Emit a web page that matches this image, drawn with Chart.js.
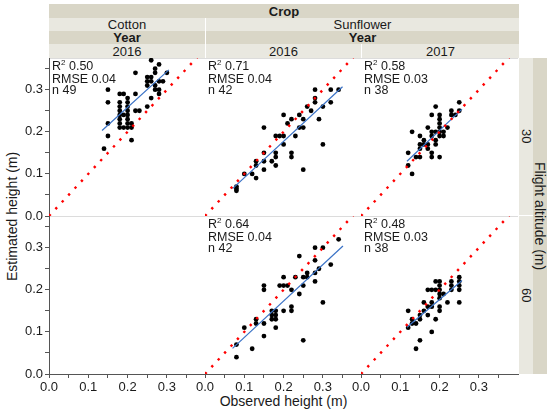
<!DOCTYPE html>
<html>
<head>
<meta charset="utf-8">
<script src="https://cdn.jsdelivr.net/npm/chart.js@4.4.1/dist/chart.umd.min.js"></script>
<style>
  body { margin: 0; width: 550px; height: 411px; position: relative; overflow: hidden; background: #fff;
         font-family: "Liberation Sans", Arial, sans-serif; color: #1a1a1a; }
  .box { position: absolute; }
  .strip { position: absolute; display: flex; align-items: center; justify-content: center; font-size: 13px; }
  .dark { background: #d9d6c7; }
  .light { background: #e9e8e0; }
  .bold { font-weight: bold; }
  .vert { writing-mode: vertical-rl; }
  .stats { position: absolute; font-size: 12.5px; line-height: 11.6px; white-space: nowrap; }
  .stats .sup { font-size: 8px; position: relative; top: -5px; }
</style>
</head>
<body>
<script>
// strip labels
const crops = ['Cotton', 'Sunflower'];
const years = ['2016', '2016', '2017'];
const altitudes = ['30', '60'];

// Cotton 2016, 30 m
const cot16a30Obs = [0.14, 0.15, 0.15, 0.15, 0.15, 0.18, 0.18, 0.18, 0.18, 0.18, 0.18, 0.18, 0.18,
  0.19, 0.19, 0.19, 0.20, 0.20, 0.20, 0.20, 0.20, 0.20, 0.20, 0.20, 0.21, 0.21, 0.21,
  0.22, 0.22, 0.22, 0.23, 0.26, 0.28, 0.25, 0.26, 0.25, 0.26, 0.25, 0.27, 0.27,
  0.28, 0.29, 0.27, 0.28, 0.27, 0.26, 0.25, 0.30, 0.28];
const cot16a30Est = [0.16, 0.19, 0.22, 0.27, 0.30, 0.29, 0.27, 0.26, 0.25, 0.24, 0.23, 0.22, 0.21,
  0.29, 0.21, 0.24, 0.28, 0.27, 0.26, 0.25, 0.24, 0.23, 0.21, 0.22, 0.22, 0.18, 0.21,
  0.34, 0.29, 0.25, 0.25, 0.37, 0.36, 0.33, 0.33, 0.32, 0.32, 0.31, 0.35, 0.34,
  0.32, 0.32, 0.30, 0.30, 0.31, 0.28, 0.26, 0.34, 0.29];

// Sunflower 2016, 30 m
const sun16a30Obs = [0.08, 0.08, 0.08, 0.10, 0.12, 0.13, 0.13, 0.13, 0.15, 0.15, 0.15, 0.17, 0.18, 0.18,
  0.18, 0.18, 0.19, 0.20, 0.20, 0.20, 0.21, 0.22, 0.22, 0.22, 0.23, 0.24, 0.24, 0.25, 0.25, 0.25,
  0.26, 0.28, 0.28, 0.28, 0.29, 0.30, 0.30, 0.32, 0.32, 0.34, 0.15, 0.27];
const sun16a30Est = [0.06, 0.07, 0.065, 0.10, 0.10, 0.09, 0.12, 0.13, 0.11, 0.15, 0.21, 0.13, 0.15, 0.14,
  0.12, 0.19, 0.19, 0.19, 0.17, 0.24, 0.22, 0.23, 0.15, 0.14, 0.19, 0.24, 0.21, 0.23, 0.21, 0.11,
  0.26, 0.27, 0.30, 0.28, 0.23, 0.26, 0.17, 0.30, 0.27, 0.30, 0.13, 0.25];

// Sunflower 2017, 30 m
const sun17a30Obs = [0.13, 0.12, 0.12, 0.13, 0.14, 0.15, 0.15, 0.15, 0.16, 0.15, 0.17, 0.17, 0.18, 0.18,
  0.18, 0.18, 0.19, 0.19, 0.19, 0.20, 0.20, 0.20, 0.20, 0.20, 0.20, 0.21, 0.22, 0.23, 0.23, 0.24,
  0.25, 0.25, 0.17, 0.16, 0.19, 0.20, 0.21, 0.18];
const sun17a30Est = [0.10, 0.12, 0.15, 0.20, 0.14, 0.14, 0.19, 0.17, 0.17, 0.16, 0.21, 0.16, 0.24, 0.19,
  0.14, 0.15, 0.26, 0.20, 0.17, 0.24, 0.23, 0.22, 0.21, 0.20, 0.14, 0.19, 0.21, 0.25, 0.24, 0.24,
  0.27, 0.25, 0.17, 0.18, 0.18, 0.19, 0.20, 0.20];

// Sunflower 2016, 60 m
const sun16a60Obs = [0.08, 0.08, 0.10, 0.12, 0.13, 0.13, 0.15, 0.15, 0.15, 0.15, 0.17, 0.17, 0.18, 0.18,
  0.18, 0.18, 0.19, 0.20, 0.20, 0.20, 0.21, 0.22, 0.22, 0.22, 0.23, 0.24, 0.24, 0.25, 0.26, 0.25,
  0.25, 0.28, 0.28, 0.28, 0.28, 0.29, 0.30, 0.30, 0.32, 0.34, 0.17, 0.26];
const sun16a60Est = [0.04, 0.07, 0.11, 0.06, 0.13, 0.12, 0.09, 0.12, 0.21, 0.20, 0.15, 0.13, 0.15, 0.14,
  0.13, 0.11, 0.21, 0.23, 0.21, 0.15, 0.21, 0.20, 0.16, 0.15, 0.23, 0.28, 0.19, 0.23, 0.23, 0.21,
  0.08, 0.30, 0.27, 0.24, 0.22, 0.25, 0.30, 0.17, 0.26, 0.32, 0.14, 0.24];

// Sunflower 2017, 60 m
const sun17a60Obs = [0.12, 0.12, 0.13, 0.13, 0.14, 0.15, 0.15, 0.15, 0.16, 0.17, 0.17, 0.17, 0.18, 0.18,
  0.18, 0.19, 0.19, 0.19, 0.20, 0.20, 0.20, 0.20, 0.20, 0.20, 0.22, 0.23, 0.23, 0.23, 0.25, 0.25,
  0.25, 0.25, 0.25, 0.18, 0.16, 0.14, 0.21, 0.20];
const sun17a60Est = [0.15, 0.11, 0.13, 0.12, 0.06, 0.08, 0.14, 0.13, 0.17, 0.16, 0.14, 0.20, 0.20, 0.16,
  0.10, 0.20, 0.22, 0.13, 0.22, 0.21, 0.20, 0.18, 0.16, 0.15, 0.17, 0.22, 0.21, 0.20, 0.23, 0.22,
  0.21, 0.20, 0.17, 0.17, 0.15, 0.12, 0.19, 0.19];

// fitted line ends (observed, estimated)
const fitObs = [[0.135, 0.305], [0.07, 0.35], [0.117, 0.257], [0.07, 0.351], [0.117, 0.257]];
const fitEst = [[0.203, 0.347], [0.065, 0.307], [0.130, 0.254], [0.061, 0.304], [0.111, 0.222]];

// stats per panel
const r2 = ['0.50', '0.71', '0.58', '0.64', '0.48'];
const rmse = ['0.04', '0.04', '0.03', '0.04', '0.03'];
const nObs = [49, 42, 38, 42, 38];

// layout
const X0 = [49, 205, 361], W = 157;
const Y0 = [58, 216], H = 158;
const M = 12;
const xMax = W / 393, yMax = H / 421;
const FONT = { family: 'Liberation Sans', size: 13 };

function div(cls, x, y, w, h, html) {
  const d = document.createElement('div');
  d.className = cls;
  d.style.left = x + 'px'; d.style.top = y + 'px';
  d.style.width = w + 'px'; d.style.height = h + 'px';
  if (html) d.innerHTML = html;
  document.body.appendChild(d);
  return d;
}

// panel background + dividers
div('box', 49, 58, 469, 316).style.background = '#dcdcdc';
for (let r = 0; r < 2; r++)
  for (let c = 0; c < 3; c++)
    div('box', X0[c] + 1, Y0[r] + 1, W - 1, H - 1).style.background = '#fff';

// top strips
div('strip dark bold', 49, 4, 470, 14, 'Crop');
div('strip light', 49, 18, 156, 13, crops[0]);
div('strip light', 206, 18, 313, 13, crops[1]);
div('strip dark bold', 49, 31, 156, 13, 'Year');
div('strip dark bold', 206, 31, 313, 13, 'Year');
div('strip light', 49, 44, 156, 14, years[0]);
div('strip light', 206, 44, 155, 14, years[1]);
div('strip light', 362, 44, 157, 14, years[2]);
// right strips
div('strip light vert', 519, 58, 14, 157, altitudes[0]);
div('strip light vert', 519, 216, 14, 158, altitudes[1]);
div('strip dark vert', 533, 58, 14, 316, 'Flight altitude (m)').style.fontSize = '14px';

// axis titles
const yt = div('strip vert', 4, 58, 16, 316, 'Estimated height (m)');
yt.style.transform = 'rotate(180deg)'; yt.style.fontSize = '14px';
div('strip', 205, 393, 157, 16, 'Observed height (m)').style.fontSize = '14px';

const lab = v => (Math.abs(v * 10 - Math.round(v * 10)) < 1e-6 ? v.toFixed(1) : '');
const pts = (xs, ys) => xs.map((x, i) => ({ x: x, y: ys[i] }));

function makePanel(col, row, obs, est, k) {
  const la = col === 0 ? 49 : 0, lb = row === 1 ? 24 : 0;
  const cw = W + la + 2 * M, ch = H + lb + 2 * M;
  const cv = document.createElement('canvas');
  cv.width = cw; cv.height = ch;
  cv.style.cssText = `position:absolute;left:${X0[col] - la - M}px;top:${Y0[row] - M}px;width:${cw}px;height:${ch}px`;
  document.body.appendChild(cv);

  const datasets = [];
  if (obs) {
    datasets.push({
      type: 'line', data: [{ x: 0, y: 0 }, { x: 0.45, y: 0.45 }],
      borderColor: '#ff0000', borderWidth: 2.4, borderDash: [2.4, 7], pointRadius: 0, order: 0
    });
    datasets.push({
      type: 'line', data: pts(fitObs[k], fitEst[k]),
      borderColor: '#3a72c6', borderWidth: 1.2, pointRadius: 0, order: 1
    });
    datasets.push({
      type: 'scatter', data: pts(obs, est),
      pointRadius: 2.4, pointBackgroundColor: '#000', pointBorderWidth: 0, order: 2
    });
  }

  new Chart(cv, {
    type: 'scatter',
    data: { datasets: datasets },
    options: {
      responsive: false,
      animation: false,
      layout: { padding: M },
      plugins: { legend: { display: false }, tooltip: { enabled: false } },
      scales: {
        x: {
          type: 'linear', min: 0, max: xMax, display: row === 1,
          afterFit: s => { s.height = lb; },
          ticks: { stepSize: 0.05, includeBounds: false, autoSkip: false, maxRotation: 0,
                   padding: 2, color: '#1a1a1a', font: FONT, callback: lab },
          grid: { drawOnChartArea: false, tickLength: 4, color: '#555' },
          border: { color: '#555' }
        },
        y: {
          type: 'linear', min: 0, max: yMax, display: col === 0,
          afterFit: s => { s.width = la; },
          ticks: { stepSize: 0.05, includeBounds: false, autoSkip: false,
                   padding: 2, color: '#1a1a1a', font: FONT, callback: lab },
          grid: { drawOnChartArea: false, tickLength: 4, color: '#555' },
          border: { color: '#555' }
        }
      }
    }
  });

  if (obs) {
    div('stats', X0[col] + 3, Y0[row] + 3, 80, 40,
      `R<span class="sup">2</span> ${r2[k]}<br>RMSE ${rmse[k]}<br>n ${nObs[k]}`);
  }
}

makePanel(0, 0, cot16a30Obs, cot16a30Est, 0);
makePanel(1, 0, sun16a30Obs, sun16a30Est, 1);
makePanel(2, 0, sun17a30Obs, sun17a30Est, 2);
makePanel(0, 1, null, null, -1);
makePanel(1, 1, sun16a60Obs, sun16a60Est, 3);
makePanel(2, 1, sun17a60Obs, sun17a60Est, 4);
</script>
</body>
</html>
